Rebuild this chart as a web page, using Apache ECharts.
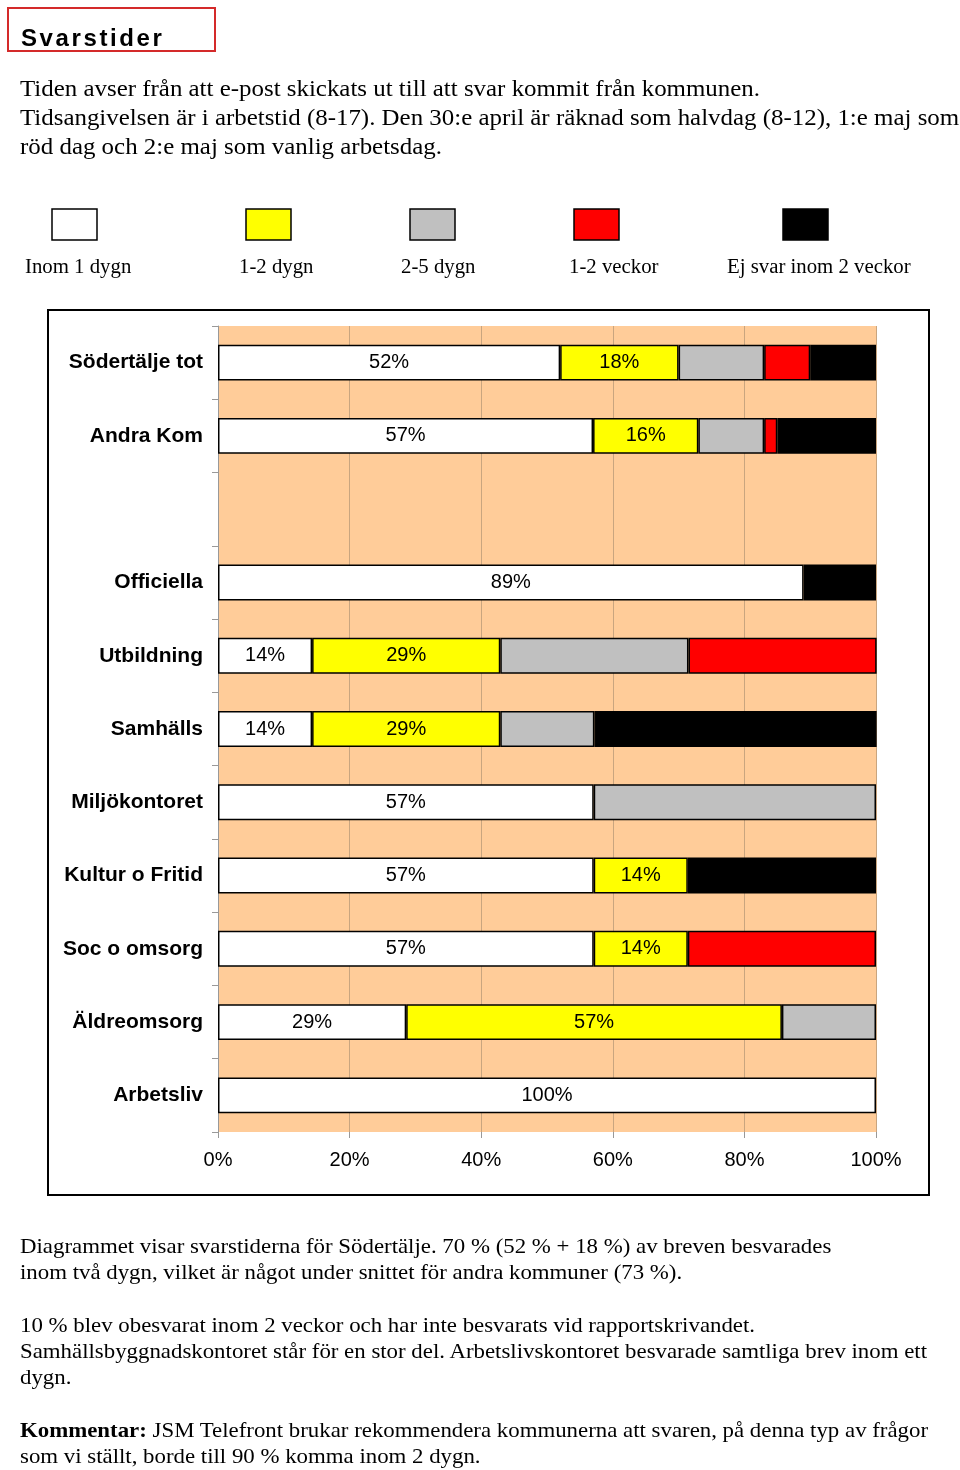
<!DOCTYPE html>
<html><head><meta charset="utf-8">
<script src="https://cdn.jsdelivr.net/npm/echarts@6/dist/echarts.min.js"></script>
<style>
html,body{margin:0;padding:0;background:#fff;}
#page{position:relative;width:960px;height:1470px;overflow:hidden;}
#chart{position:absolute;left:0;top:0;width:960px;height:1470px;}
.title{position:absolute;left:7px;top:7px;width:205px;height:41px;border:2px solid #d42a2a;box-sizing:content-box;}
.title span{position:absolute;left:12px;top:14px;font-family:"Liberation Sans",Arial,sans-serif;font-weight:bold;font-size:24px;letter-spacing:2.6px;color:#000;line-height:30px;}
.txt{position:absolute;left:20px;font-family:"Liberation Serif","Times New Roman",serif;color:#000;white-space:nowrap;transform-origin:0 0;}
#p1{top:74px;font-size:24px;line-height:29px;}
#p2{top:1233px;font-size:21px;line-height:26.3px;}
</style></head>
<body><div id="page">
<div id="chart"></div>
<div class="title"><span>Svarstider</span></div>
<div class="txt" id="p1"><span id="r1">Tiden avser från att e-post skickats ut till att svar kommit från kommunen.</span><br>Tidsangivelsen är i arbetstid (8-17). Den 30:e april är räknad som halvdag (8-12), 1:e maj som<br>röd dag och 2:e maj som vanlig arbetsdag.</div>
<div class="txt" id="p2">Diagrammet visar svarstiderna för Södertälje. 70 % (52 % + 18 %) av breven besvarades<br>inom två dygn, vilket är något under snittet för andra kommuner (73 %).<br><br>10 % blev obesvarat inom 2 veckor och har inte besvarats vid rapportskrivandet.<br><span id="r2">Samhällsbyggnadskontoret står för en stor del. Arbetslivskontoret besvarade samtliga brev inom ett</span><br>dygn.<br><br><b>Kommentar:</b> JSM Telefront brukar rekommendera kommunerna att svaren, på denna typ av frågor<br>som vi ställt, borde till 90 % komma inom 2 dygn.</div>
</div>
<script>
// ---- data ----
var categories = ['Södertälje tot','Andra Kom',' ','Officiella','Utbildning','Samhälls','Miljökontoret','Kultur o Fritid','Soc o omsorg','Äldreomsorg','Arbetsliv'];
var seriesNames = ['Inom 1 dygn','1-2 dygn','2-5 dygn','1-2 veckor','Ej svar inom 2 veckor'];
var inom1dygn   = [52, 57, null, 89, 14.3, 14.3, 57.1, 57.1, 57.1, 28.6, 100];
var dygn1_2     = [18, 16, null, null, 28.6, 28.6, null, 14.3, 14.3, 57.1, null];
var dygn2_5     = [13, 10, null, null, 28.6, 14.3, 42.9, null, null, 14.3, null];
var veckor1_2   = [7, 2, null, null, 28.6, null, null, null, 28.6, null, null];
var ejSvar      = [10, 15, null, 11, null, 42.9, null, 28.6, null, null, null];
var xTicks = [0, 20, 40, 60, 80, 100];

var colors = ['#FFFFFF','#FFFF00','#C0C0C0','#FF0000','#000000'];
var allData = [inom1dygn, dygn1_2, dygn2_5, veckor1_2, ejSvar];

// fit text blocks
function fit(blockId, refId, target){
  var b=document.getElementById(blockId), r=document.getElementById(refId);
  var w=r.getBoundingClientRect().width;
  b.style.transform='scaleX('+(target/w)+')';
}
fit('p1','r1',740);
fit('p2','r2',907);

var chart = echarts.init(document.getElementById('chart'), null, {renderer:'canvas'});
var series = seriesNames.map(function(n,i){
  return {
    name:n, type:'bar', stack:'all', barWidth:'49%',
    data: allData[i],
    itemStyle:{color:colors[i], borderColor:'#000', borderWidth:1.5},
    label:{show:i<2, position:'inside', color:'#000', fontFamily:'Liberation Sans, Arial, sans-serif', fontSize:20,
      formatter:function(p){return (p.value==null||p.value===0)?'':Math.round(p.value)+'%';}},
    emphasis:{disabled:true}, animation:false
  };
});

// legend drawn as graphics (boxes above, text below)
var legBoxes = [52, 246, 410, 574, 783];
var legText = [25, 239, 401, 569, 727];
var graphics = [
  {type:'rect', shape:{x:48, y:310, width:881, height:885}, style:{fill:'none', stroke:'#000', lineWidth:2}, z:100}
];
seriesNames.forEach(function(n,i){
  graphics.push({type:'rect', shape:{x:legBoxes[i], y:209, width:45, height:31}, style:{fill:colors[i], stroke:'#000', lineWidth:1.5}});
  graphics.push({type:'text', x:legText[i], y:268, style:{text:n, font:'20.8px "Liberation Serif", "Times New Roman", serif', fill:'#000', verticalAlign:'middle', align:'left'}});
});

chart.setOption({
  animation:false,
  grid:{left:218, top:326, width:658, height:806, show:true, backgroundColor:'#FFCC99', borderWidth:0, containLabel:false},
  xAxis:{type:'value', min:0, max:100, interval:20,
    axisLine:{show:false},
    axisTick:{show:true, length:6, lineStyle:{color:'#999'}},
    splitLine:{show:true, lineStyle:{color:'#C9A57F', width:1}},
    axisLabel:{formatter:function(v){return v+'%';}, color:'#000', fontFamily:'Liberation Sans, Arial, sans-serif', fontSize:20, margin:18}},
  yAxis:{type:'category', data:categories, inverse:true,
    axisLine:{show:true, lineStyle:{color:'#999', width:1}},
    axisTick:{show:true, length:6, lineStyle:{color:'#999'}},
    axisLabel:{color:'#000', fontFamily:'Liberation Sans, Arial, sans-serif', fontWeight:'bold', fontSize:21, margin:15}},
  series:series,
  graphic:graphics
});
</script>
</body></html>
